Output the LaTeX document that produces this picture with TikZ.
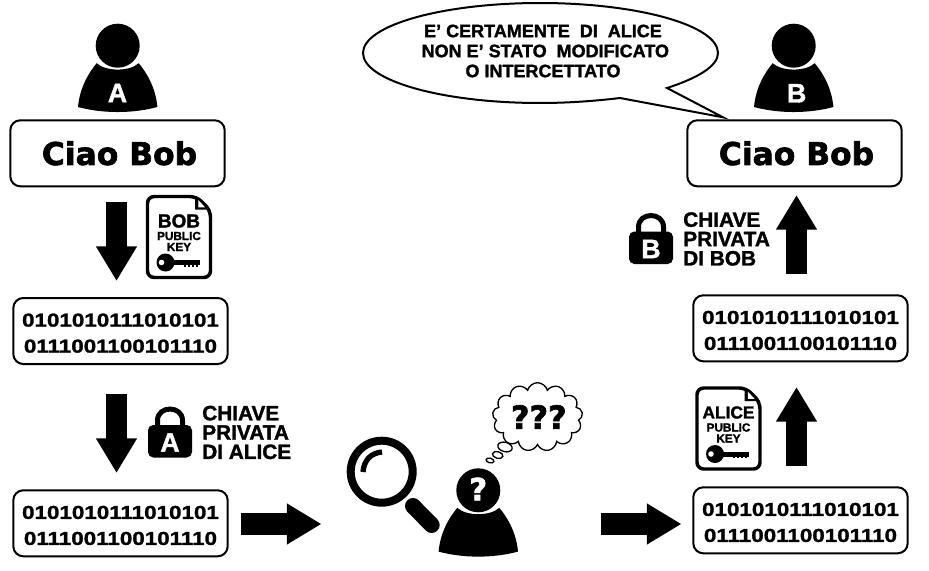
\documentclass[tikz,border=0pt]{standalone}
\usepackage{fontspec}
\setmainfont{Liberation Sans}[BoldFeatures={FakeBold=1.5}]
\newfontfamily\heavyfont{DejaVu Sans}[BoldFeatures={FakeBold=2}]
\newfontfamily\widefont{Liberation Sans}[FakeStretch=1.2,BoldFeatures={FakeBold=1.5}]
\usetikzlibrary{arrows.meta,shapes.geometric,shapes.symbols}
\newcommand{\bitrows}{\rule{0pt}{13pt}0101010111010101\\0111001100101110}

\begin{document}
\begin{tikzpicture}[x=0.75pt,y=-0.75pt]
    \tikzset{%
      msgbox/.style={draw, line width=1.5pt, rounded corners=7.5pt, minimum
        width=160.8pt, minimum height=49.5pt, inner sep=0pt, align=center},
      ciao/.style={msgbox, font=\heavyfont\fontsize{23.5}{28}\bfseries},
      bits/.style={msgbox, font=\widefont\fontsize{14}{19.5}\bfseries},
      bigarrow/.style={line width=16pt, -{Triangle[length=26pt,width=29pt]}},
      label/.style={anchor=west, inner sep=0pt, align=left,
        font=\fontsize{15.6}{14.5}\bfseries},
      letter/.style={white, inner sep=0pt, font=\fontsize{20}{20}\bfseries},
      pics/person/.style={code={
        \fill (0,0) circle [radius=22];
        \fill (-39.7,61.3) .. controls (-38,42) and (-29,27) .. (-21,17.5)
          .. controls (-12,26) and (12,26) .. (21,17.5)
          .. controls (29,27) and (38,42) .. (39.7,61.3)
          .. controls (15,68) and (-15,68) .. cycle;
      }},
      pics/docicon/.style 2 args={code={
        \draw [line width=2.6pt, rounded corners=5pt, fill=white]
          (0,0) -- (49,0) -- (63,14) -- (63,81) -- (0,81) -- cycle;
        \fill (47.5,0) -- (47.5,13) -- (63,13) -- cycle;
        \fill [white] (50.8,3.5) -- (50.8,10.8) -- (57.5,10.8) -- cycle;
        \node [inner sep=0pt, font=\fontsize{#2}{#2}\bfseries] (-name) at (31.5,24.5) {#1};
        \node [inner sep=0pt, font=\fontsize{8.8}{8.8}\bfseries] (-pub) at (31.5,39.5) {PUBLIC};
        \node [inner sep=0pt, font=\fontsize{8.8}{8.8}\bfseries] (-key) at (31.5,50.5) {KEY};
        \fill (18,66) circle [radius=9];
        \fill (20,63.5) rectangle (52,68.5);
        \fill [white] (14,66) circle [radius=2.8];
        \foreach \k in {36,40,44,48} {\fill (\k,68) rectangle (\k+2.4,70);}
      }},
      pics/lockicon/.style={code={
        \draw [line width=3.75pt] (9.5,22) -- (9.5,14) .. controls (9.5,-1.3) and (34.5,-1.3) .. (34.5,14) -- (34.5,22);
        \fill [rounded corners=4pt] (0,18.5) rectangle (44,51);
        \node [letter] (-letter) at (22,36) {#1};
      }},
    }
    \useasboundingbox (0,0) rectangle (929,571);

    % sender
    \pic (alice) at (117.7,45.7) {person};
    \node [letter] (alicel) at (117.5,93) {A};
    \node [ciao] (boxA) at (117.5,153.3) {\kern3pt Ciao Bob};
    \coordinate (a1) at (116.5,202);
    \coordinate (a2) at (116.5,281);
    \draw [bigarrow] (a1) -- (a2);
    \pic (docB) at (147.5,196.5) {docicon={BOB}{14.2}};
    \node [bits] (binA) at (120.5,331) {\bitrows};
    \coordinate (b1) at (116.5,394);
    \coordinate (b2) at (116.5,473);
    \draw [bigarrow] (b1) -- (b2);
    \pic (lockA) at (148,406.5) {lockicon=A};
    \node [label] (chiaveA) at (202,432.5) {CHIAVE\\PRIVATA\\DI ALICE};
    \node [bits] (crypA) at (120.5,523.3) {\bitrows};
    \coordinate (c1) at (241,524);
    \coordinate (c2) at (321.5,524);
    \draw [bigarrow] (c1) -- (c2);

    % in the middle
    \draw [line width=6pt] (381.7,471.7) circle [radius=31];
    \draw [line width=4pt] (363,472) .. controls (364,460) and (371,453) .. (382,452);
    \draw [line width=12pt, line cap=round] (413,506) -- (431.7,525);
    \pic (eve) at (478.3,490.3) {person};
    \node [white, inner sep=0pt, font=\heavyfont\fontsize{23}{23}\bfseries] (evel) at (478.3,489) {?};
    \node [cloud, draw, line width=1pt, cloud puffs=13, aspect=1.5, inner sep=0pt, minimum
      width=66pt, minimum height=45pt, font=\heavyfont\fontsize{24}{24}\bfseries] (think) at (537.5,417) {\kern2pt ???};
    \node [ellipse, draw, line width=1pt, rotate=-15, inner sep=0pt, minimum width=11pt, minimum height=7pt] (th1) at (505,447) {};
    \node [ellipse, draw, line width=1pt, rotate=-15, inner sep=0pt, minimum width=8pt, minimum height=5pt] (th2) at (497.7,455) {};
    \node [ellipse, draw, line width=1pt, rotate=-15, inner sep=0pt, minimum width=6pt, minimum height=3.5pt] (th3) at (490,460.5) {};
    \coordinate (d1) at (601,524);
    \coordinate (d2) at (681.5,524);
    \draw [bigarrow] (d1) -- (d2);

    % receiver
    \node [bits] (crypB) at (800.5,520.3) {\bitrows};
    \pic (docA) at (697,388) {docicon={ALICE}{13}};
    \coordinate (e1) at (796.5,466);
    \coordinate (e2) at (796.5,387);
    \draw [bigarrow] (e1) -- (e2);
    \node [bits] (binB) at (800.5,328.3) {\bitrows};
    \pic (lockB) at (629,213) {lockicon=B};
    \node [label] (chiaveB) at (683,239) {CHIAVE\\PRIVATA\\DI BOB};
    \coordinate (f1) at (796.5,274);
    \coordinate (f2) at (796.5,195);
    \draw [bigarrow] (f1) -- (f2);
    \node [ciao] (boxB) at (794.5,153.3) {\kern3pt Ciao Bob};
    \pic (bob) at (793.7,45.7) {person};
    \node [letter] (bobl) at (796.7,93.3) {B};

    % speech bubble
    \draw [line width=1.5pt] (718,53) .. controls (718,25.4) and (638,3) .. (540,3)
      .. controls (442,3) and (363,25.4) .. (363,53)
      .. controls (363,80.6) and (442,103) .. (540,103)
      .. controls (568,103) and (595,101) .. (620,98)
      -- (723,117.3) -- (667,88)
      .. controls (698,78) and (718,66) .. cycle;
    \node [inner sep=0pt, align=center, font=\fontsize{13.5}{15}\bfseries] (speech) at (543,51)
      {E' CERTAMENTE\ \ DI\ \ ALICE\\\kern3.5pt NON E' STATO\ \ MODIFICATO\\O INTERCETTATO};
  \end{tikzpicture}
\end{document}
